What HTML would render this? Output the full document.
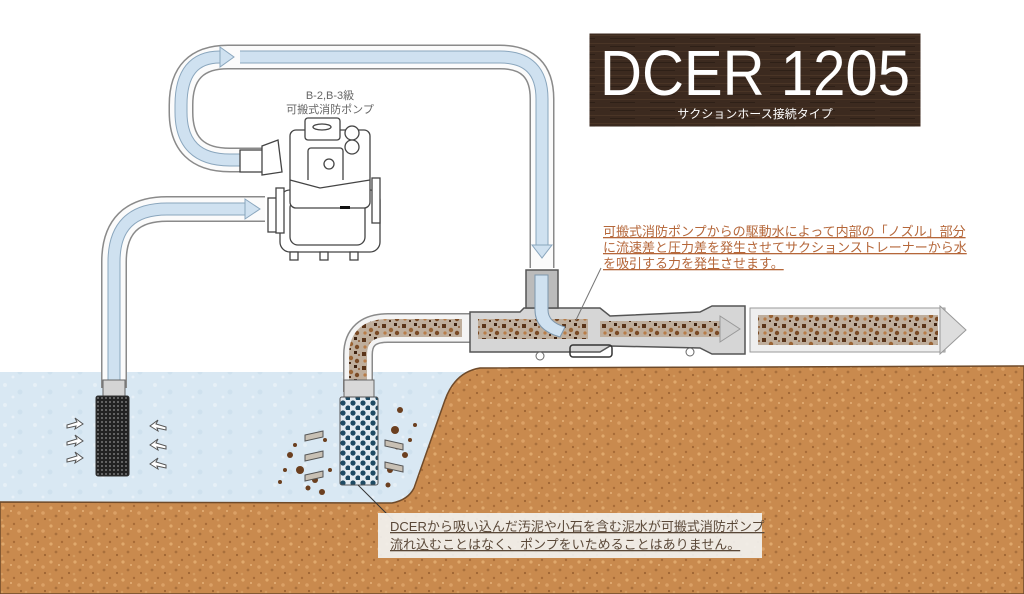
<!DOCTYPE html>
<html><head><meta charset="utf-8"><style>
html,body{margin:0;padding:0;background:#fff;}
svg{display:block}
</style></head><body>
<svg width="1024" height="594" viewBox="0 0 1024 594" xmlns="http://www.w3.org/2000/svg">
<defs>
<pattern id="soil" width="24" height="18" patternUnits="userSpaceOnUse">
<rect width="24" height="18" fill="#c98a4e"/>
<circle cx="3" cy="4" r="1.6" fill="#e0a96c"/><circle cx="14" cy="2" r="1.2" fill="#a86c38"/>
<circle cx="19" cy="9" r="1.8" fill="#dba166"/><circle cx="8" cy="12" r="1.4" fill="#a9703c"/>
<circle cx="21" cy="15" r="1.1" fill="#9e6433"/><circle cx="11" cy="7" r="1" fill="#e5b27a"/>
<circle cx="2" cy="16" r="1.3" fill="#d49b5f"/>
</pattern>
<pattern id="water" width="30" height="20" patternUnits="userSpaceOnUse">
<rect width="30" height="20" fill="#d9e8f3"/>
<circle cx="5" cy="5" r="2" fill="#e6f0f7"/><circle cx="20" cy="12" r="2.5" fill="#cfe1ee"/>
<circle cx="13" cy="17" r="1.5" fill="#e8f1f8"/>
</pattern>
<pattern id="mud" width="20" height="14" patternUnits="userSpaceOnUse">
<rect width="20" height="14" fill="#bfae9c"/>
<rect x="2" y="2" width="4" height="4" fill="#5a3419"/><circle cx="11" cy="8" r="2.2" fill="#9a6435"/>
<rect x="14" y="1" width="3" height="3" fill="#3e2210"/><circle cx="17" cy="11" r="2.2" fill="#7a4a25"/>
<circle cx="5" cy="11" r="1.6" fill="#b87c48"/><rect x="9" y="12" width="2" height="2" fill="#4a2a14"/>
<circle cx="19" cy="5" r="1" fill="#8a5630"/>
</pattern>
<pattern id="mesh" width="4" height="4" patternUnits="userSpaceOnUse">
<rect width="4" height="4" fill="#222"/><circle cx="2" cy="2" r="1" fill="#777"/>
</pattern>
<pattern id="holes" width="10" height="10" patternUnits="userSpaceOnUse">
<rect width="10" height="10" fill="#e4ecf2"/><circle cx="3" cy="3" r="2.6" fill="#1f4a63"/><circle cx="8" cy="8" r="2.6" fill="#1f4a63"/>
</pattern>
<pattern id="wood" width="40" height="8" patternUnits="userSpaceOnUse">
<rect width="40" height="8" fill="#3c2a1f"/><rect y="3" width="40" height="1" fill="#4a3526"/><rect x="10" y="6" width="25" height="1" fill="#2e2017"/>
</pattern>
</defs>

<path d="M0 372 L470 372 L470 375 Q455 380 440 420 L412 490 Q405 502 390 503 L0 503 Z" fill="url(#water)"/>
<path d="M0 502 L392 503 Q408 500 414 488 L445 400 Q455 372 480 368 L1024 366 L1024 594 L0 594 Z" fill="url(#soil)" stroke="#6e4a2a" stroke-width="1.5"/>

<rect x="589" y="33" width="332" height="94" fill="url(#wood)" stroke="#fff" stroke-width="1"/>
<text x="755" y="95" text-anchor="middle" font-family="'Liberation Sans Narrow','Liberation Sans',sans-serif" font-size="64" fill="#fff" textLength="310" lengthAdjust="spacingAndGlyphs">DCER 1205</text>
<text x="755" y="118" text-anchor="middle" font-family="'Liberation Sans','Noto Sans CJK JP',sans-serif" font-size="12" fill="#fff">サクションホース接続タイプ</text>

<g fill="none" stroke-linecap="butt">
<path d="M114 388 L114 262 Q114 209 167 209 L265 209" stroke="#8a8a8a" stroke-width="26"/>
<path d="M114 388 L114 262 Q114 209 167 209 L265 209" stroke="#fbfbfb" stroke-width="23"/>
<path d="M114 382 L114 262 Q114 209 167 209 L245 209" stroke="#8aa6bd" stroke-width="13"/>
<path d="M114 382 L114 262 Q114 209 167 209 L245 209" stroke="#cfe1f0" stroke-width="11"/>

<path d="M268 160 L230 160 Q181 160 181 112 L181 105 Q181 57 228 57 L500 57 Q542 57 542 99 L542 268" stroke="#8a8a8a" stroke-width="25"/>
<path d="M268 160 L230 160 Q181 160 181 112 L181 105 Q181 57 228 57 L500 57 Q542 57 542 99 L542 268" stroke="#fbfbfb" stroke-width="22"/>
<path d="M240 160 L230 160 Q181 160 181 112 L181 105 Q181 57 220 57" stroke="#8aa6bd" stroke-width="13"/>
<path d="M240 160 L230 160 Q181 160 181 112 L181 105 Q181 57 220 57" stroke="#cfe1f0" stroke-width="11"/>
<path d="M240 57 L500 57 Q542 57 542 99 L542 245" stroke="#8aa6bd" stroke-width="13"/>
<path d="M240 57 L500 57 Q542 57 542 99 L542 245" stroke="#cfe1f0" stroke-width="11"/>
</g>
<polygon points="245,199 260,209 245,219" fill="#cfe1f0" stroke="#8aa6bd"/>
<polygon points="220,47 234,57 220,67" fill="#cfe1f0" stroke="#8aa6bd"/>
<polygon points="532,245 552,245 542,258" fill="#cfe1f0" stroke="#8aa6bd"/>

<rect x="103" y="380" width="22" height="18" fill="#d4d4d4" stroke="#666"/>
<rect x="96" y="396" width="33" height="80" rx="2" fill="url(#mesh)" stroke="#333"/>
<g fill="#fff" stroke="#555" stroke-width="1">
<path d="M67 425 l10 -3 l-2 -4 l8 6 l-8 5 l1 -3 l-9 2z"/><path d="M67 442 l10 -3 l-2 -4 l8 6 l-8 5 l1 -3 l-9 2z"/><path d="M67 459 l10 -3 l-2 -4 l8 6 l-8 5 l1 -3 l-9 2z"/>
<path d="M166 427 l-10 -3 l2 -4 l-8 6 l8 5 l-1 -3 l9 2z"/><path d="M166 446 l-10 -3 l2 -4 l-8 6 l8 5 l-1 -3 l9 2z"/><path d="M166 465 l-10 -3 l2 -4 l-8 6 l8 5 l-1 -3 l9 2z"/>
</g>

<g fill="#fff" stroke="#444" stroke-width="1.3">
<rect x="268" y="198" width="12" height="34"/>
<rect x="280" y="190" width="100" height="62" rx="10"/>
<rect x="290" y="200" width="75" height="45" rx="8"/>
<rect x="290" y="130" width="80" height="78" rx="6"/>
<rect x="305" y="118" width="35" height="22" rx="3"/>
<ellipse cx="322" cy="127" rx="9" ry="3"/>
<circle cx="352" cy="133" r="7"/><circle cx="352" cy="147" r="7"/>
<rect x="308" y="148" width="35" height="35" rx="3"/>
<circle cx="329" cy="164" r="5"/>
<path d="M290 180 L320 188 L370 180"/>
<rect x="240" y="150" width="28" height="22"/>
<path d="M262 146 L278 140 L282 172 L262 175 Z"/>
<rect x="372" y="178" width="8" height="45"/><rect x="276" y="188" width="8" height="45"/>
<rect x="290" y="252" width="8" height="8"/><rect x="320" y="252" width="8" height="8"/><rect x="350" y="252" width="8" height="8"/>
</g>
<rect x="340" y="206" width="10" height="3" fill="#111"/>
<text x="330" y="99" text-anchor="middle" font-family="'Liberation Sans','Noto Sans CJK JP',sans-serif" font-size="11" fill="#666">B-2,B-3級</text>
<text x="330" y="113" text-anchor="middle" font-family="'Liberation Sans','Noto Sans CJK JP',sans-serif" font-size="11" fill="#666">可搬式消防ポンプ</text>

<g fill="none">
<path d="M358 392 L358 355 Q358 328 388 328 L472 328" stroke="#8a8a8a" stroke-width="30"/>
<path d="M358 392 L358 355 Q358 328 388 328 L472 328" stroke="#f4f4f4" stroke-width="27"/>
<path d="M358 392 L358 355 Q358 328 388 328 L462 328" stroke="url(#mud)" stroke-width="18"/>
</g>
<rect x="344" y="380" width="30" height="18" fill="#d8d8d8" stroke="#666"/>
<rect x="340" y="397" width="38" height="88" rx="2" fill="url(#holes)" stroke="#555"/>
<g fill="#6b3f1f">
<circle cx="290" cy="455" r="3"/><circle cx="300" cy="470" r="4"/><circle cx="315" cy="480" r="3"/><circle cx="285" cy="470" r="2"/>
<circle cx="395" cy="430" r="4"/><circle cx="405" cy="455" r="3"/><circle cx="390" cy="470" r="3"/><circle cx="410" cy="440" r="2"/>
<circle cx="322" cy="492" r="3"/><circle cx="400" cy="410" r="3"/><circle cx="295" cy="445" r="2"/><circle cx="308" cy="488" r="2.5"/>
<circle cx="280" cy="482" r="2"/><circle cx="330" cy="470" r="2"/><circle cx="388" cy="485" r="2.5"/><circle cx="415" cy="425" r="2"/>
<circle cx="325" cy="440" r="2"/><circle cx="397" cy="447" r="2.5"/>
</g>
<g fill="#c8c0b4" stroke="#555">
<path d="M305 435 l18 -4 l0 6 l-18 4z"/><path d="M305 455 l18 -4 l0 6 l-18 4z"/><path d="M305 475 l18 -4 l0 6 l-18 4z"/>
<path d="M385 440 l18 4 l0 6 l-18 -4z"/><path d="M385 462 l18 4 l0 6 l-18 -4z"/>
</g>

<path d="M470 312 L520 312 L524 308 L600 308 L610 316 L700 312 L712 306 L745 306 L745 354 L712 354 L700 348 L610 346 L600 352 L470 352 Z" fill="#d6d6d6" stroke="#555" stroke-width="1.5"/>
<rect x="570" y="345" width="42" height="12" rx="3" fill="none" stroke="#333" stroke-width="1.5"/>
<circle cx="540" cy="356" r="4" fill="#fff" stroke="#666"/><circle cx="690" cy="352" r="4" fill="#fff" stroke="#666"/>
<path d="M526 270 L558 270 L558 308 L526 308 Z" fill="#bbb" stroke="#555" stroke-width="1.5"/>
<rect x="478" y="319" width="110" height="20" fill="url(#mud)"/>
<rect x="600" y="321" width="120" height="16" fill="url(#mud)"/>
<path d="M535 275 L548 275 L548 310 Q548 322 565 327 L560 337 Q535 330 535 310 Z" fill="#cfe1f0" stroke="#7d97ad"/>
<polygon points="720,316 740,329 720,342" fill="#cfcfcf" stroke="#999"/>

<rect x="750" y="308" width="195" height="44" fill="#eee" stroke="#999"/>
<rect x="758" y="315" width="180" height="30" fill="url(#mud)"/>
<polygon points="940,306 966,330 940,354" fill="#ddd" stroke="#999"/>

<line x1="601" y1="268" x2="576" y2="320" stroke="#777" stroke-width="1"/>
<g font-family="'Liberation Sans','Noto Sans CJK JP',sans-serif" font-size="13" fill="#b5673a" text-decoration="underline">
<text x="603" y="236">可搬式消防ポンプからの駆動水によって内部の「ノズル」部分</text>
<text x="603" y="252">に流速差と圧力差を発生させてサクションストレーナーから水</text>
<text x="603" y="268">を吸引する力を発生させます。</text>
</g>

<line x1="395" y1="522" x2="358" y2="485" stroke="#333" stroke-width="1"/>
<rect x="378" y="513" width="384" height="45" fill="#f2f2f0" opacity="0.92"/>
<g font-family="'Liberation Sans','Noto Sans CJK JP',sans-serif" font-size="13" fill="#5a4838" text-decoration="underline">
<text x="390" y="531">DCERから吸い込んだ汚泥や小石を含む泥水が可搬式消防ポンプ</text>
<text x="390" y="549">流れ込むことはなく、ポンプをいためることはありません。</text>
</g>
</svg>
</body></html>
